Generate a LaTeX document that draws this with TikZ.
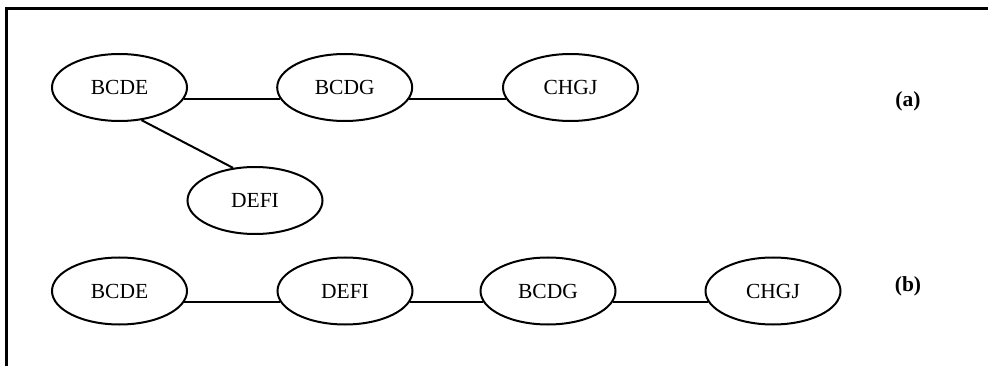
\documentclass[tikz,border=0pt]{standalone}
\usepackage{fontspec}
\setmainfont{Liberation Serif}
\usetikzlibrary{shapes.geometric}
\begin{document}
\begin{tikzpicture}[x=1pt,y=-1pt,
  clique/.style={ellipse,draw,line width=2pt,minimum width=135pt,minimum height=67pt,inner sep=0pt,font=\fontsize{21.5}{24}\selectfont},
  link/.style={line width=2pt},
  tag/.style={font=\fontsize{21.5}{24}\selectfont\bfseries}]
\useasboundingbox (0,0) rectangle (988,366);
\draw[line width=2.7pt] (6.5,366) -- (6.5,8.5) -- (988,8.5);
% (a)
\node[clique] (a1) at (119.5,87.5) {BCDE};
\node[clique] (a2) at (344.7,87.5) {BCDG};
\node[clique] (a3) at (570.5,87.5) {CHGJ};
\node[clique] (a4) at (255,200.5) {DEFI};
\node[tag] (la) at (908,101) {(a)};
\draw[link] (a1.-10) -- (a2.190);
\draw[link] (a2.-10) -- (a3.190);
\draw[link] (a1.-56) -- (a4.124);
% (b)
\node[clique] (b1) at (119.5,291) {BCDE};
\node[clique] (b2) at (345,291) {DEFI};
\node[clique] (b3) at (548,291) {BCDG};
\node[clique] (b4) at (773,291) {CHGJ};
\node[tag] (lb) at (908,286) {(b)};
\draw[link] (b1.-10) -- (b2.190);
\draw[link] (b2.-10) -- (b3.190);
\draw[link] (b3.-10) -- (b4.190);
\end{tikzpicture}
\end{document}
